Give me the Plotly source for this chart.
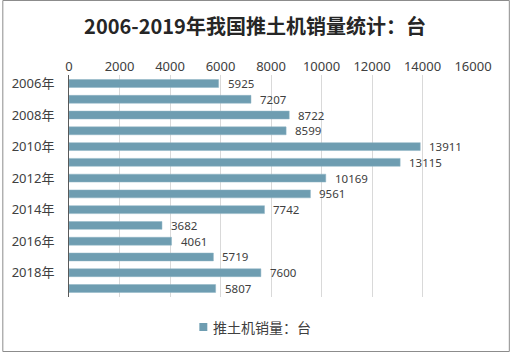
import plotly.graph_objects as go

years = ["2006年", "2007年", "2008年", "2009年", "2010年", "2011年", "2012年",
         "2013年", "2014年", "2015年", "2016年", "2017年", "2018年", "2019年"]
sales = [5925, 7207, 8722, 8599, 13911, 13115, 10169, 9561, 7742, 3682, 4061, 5719, 7600, 5807]
shown_ticks = ["2006年", "2008年", "2010年", "2012年", "2014年", "2016年", "2018年"]
x_ticks = [0, 2000, 4000, 6000, 8000, 10000, 12000, 14000, 16000]
series_name = "推土机销量：台"

W, H = 510, 352
L, R, T, B = 67, 37, 75, 55
pw, ph = W - L - R, H - T - B

def px_x(px):
    return (px - L) / pw

def px_y(py):
    return ((H - B) - py) / ph

bar_color = "#6e9db1"
txt = "#404040"
font_fam = "Noto Sans, Noto Sans CJK SC, sans-serif"

fig = go.Figure()
fig.add_trace(go.Bar(
    x=sales, y=years, orientation="h", name=series_name,
    marker=dict(color=bar_color, line=dict(color="#8fb5c5", width=0.5)),
    width=0.5, showlegend=False,
))
for v, yv in zip(sales, years):
    fig.add_annotation(x=v, y=yv, text=str(v), showarrow=False, xanchor="left",
                       xshift=8, borderpad=0,
                       font=dict(size=11.5, color=txt, family=font_fam))

# legend key + label
fig.add_shape(type="rect", xref="paper", yref="paper",
              x0=px_x(198), x1=px_x(206), y0=px_y(331), y1=px_y(323),
              fillcolor=bar_color, line=dict(width=0))
fig.add_annotation(xref="paper", yref="paper", x=px_x(210), y=px_y(327),
                   xanchor="left", yanchor="middle", showarrow=False,
                   text=series_name,
                   font=dict(size=14, color=txt, family="Noto Sans CJK SC, sans-serif"))

fig.update_layout(
    width=W, height=H,
    margin=dict(l=L, r=R, t=T, b=B),
    paper_bgcolor="white", plot_bgcolor="white",
    title=dict(text="<b>2006-2019年我国推土机销量统计：台</b>", x=0.5, xanchor="center",
               y=1 - 27 / H, yanchor="middle",
               font=dict(size=20, color="#262626", family="Noto Sans CJK SC, sans-serif")),
    xaxis=dict(side="top", range=[0, 16000], tickvals=x_ticks,
               ticktext=[str(t) for t in x_ticks],
               showgrid=True, gridcolor="#d9d9d9", gridwidth=1, zeroline=False,
               showline=False, ticks="", tickfont=dict(size=13, color=txt, family=font_fam)),
    yaxis=dict(autorange="reversed", tickvals=shown_ticks, categoryorder="array",
               categoryarray=years, showline=True, linecolor="#595959", linewidth=1,
               ticks="", showgrid=False, ticklabelstandoff=11,
               tickfont=dict(size=13, color=txt, family=font_fam)),
    showlegend=False,
    bargap=0.5,
)
fig.add_shape(type="rect", xref="paper", yref="paper",
              x0=px_x(0.5), x1=px_x(W - 0.5),
              y0=px_y(H - 0.5), y1=px_y(0.5),
              line=dict(color="#8c8c8c", width=1), layer="above")

fig.write_html("out.html")
